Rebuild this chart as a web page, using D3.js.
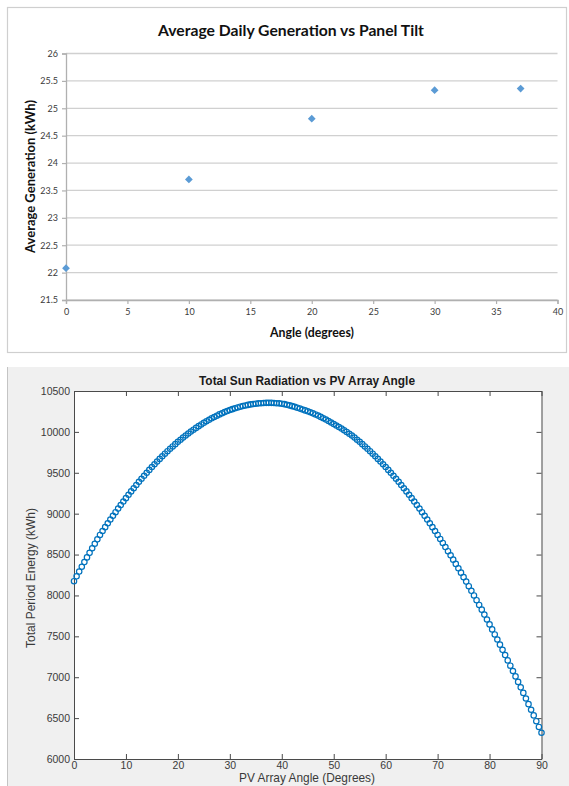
<!DOCTYPE html>
<html><head><meta charset="utf-8">
<script src="https://cdn.jsdelivr.net/npm/d3@7"></script>
<style>html,body{margin:0;padding:0;background:#fff;} svg{display:block;}</style>
</head><body>
<svg id="chart" width="569" height="786"></svg>
<script>
// ---------- DATA: top chart (Excel) ----------
const tiltTitle = "Average Daily Generation vs Panel Tilt";
const tiltXLabel = "Angle (degrees)";
const tiltYLabel = "Average Generation (kWh)";
const tiltAngles = [0, 10, 20, 30, 37];
const tiltGeneration = [22.08, 23.70, 24.81, 25.33, 25.36];
const tiltXTicks = [0, 5, 10, 15, 20, 25, 30, 35, 40];
const tiltYTicks = [21.5, 22, 22.5, 23, 23.5, 24, 24.5, 25, 25.5, 26];

// ---------- DATA: bottom chart (MATLAB) ----------
const pvTitle = "Total Sun Radiation vs PV Array Angle";
const pvXLabel = "PV Array Angle (Degrees)";
const pvYLabel = "Total Period Energy (kWh)";
const pvAngles = [
  0,0.5,1,1.5,2,2.5,3,3.5,4,4.5,5,5.5,6,6.5,7,7.5,8,8.5,9,9.5,
  10,10.5,11,11.5,12,12.5,13,13.5,14,14.5,15,15.5,16,16.5,17,17.5,18,18.5,19,19.5,
  20,20.5,21,21.5,22,22.5,23,23.5,24,24.5,25,25.5,26,26.5,27,27.5,28,28.5,29,29.5,
  30,30.5,31,31.5,32,32.5,33,33.5,34,34.5,35,35.5,36,36.5,37,37.5,38,38.5,39,39.5,
  40,40.5,41,41.5,42,42.5,43,43.5,44,44.5,45,45.5,46,46.5,47,47.5,48,48.5,49,49.5,
  50,50.5,51,51.5,52,52.5,53,53.5,54,54.5,55,55.5,56,56.5,57,57.5,58,58.5,59,59.5,
  60,60.5,61,61.5,62,62.5,63,63.5,64,64.5,65,65.5,66,66.5,67,67.5,68,68.5,69,69.5,
  70,70.5,71,71.5,72,72.5,73,73.5,74,74.5,75,75.5,76,76.5,77,77.5,78,78.5,79,79.5,
  80,80.5,81,81.5,82,82.5,83,83.5,84,84.5,85,85.5,86,86.5,87,87.5,88,88.5,89,89.5,
  90];
const pvEnergy = [
  8174,8234,8292,8351,8408,8465,8521,8577,8632,8686,8740,8788,8835,8882,8928,8973,9018,9062,9105,9148,
  9190,9231,9272,9311,9350,9389,9427,9463,9500,9535,9570,9604,9637,9670,9702,9733,9764,9793,9822,9850,
  9878,9904,9930,9956,9980,10004,10027,10049,10070,10091,10111,10130,10148,10166,10182,10198,10214,10228,10242,10255,
  10267,10278,10289,10299,10308,10316,10323,10330,10336,10341,10345,10349,10351,10353,10355,10355,10355,10353,10351,10349,
  10345,10339,10332,10324,10315,10306,10296,10285,10274,10263,10252,10240,10227,10213,10199,10183,10167,10151,10133,10115,
  10096,10078,10059,10040,10020,9999,9977,9955,9930,9904,9878,9850,9822,9793,9764,9733,9702,9670,9637,9604,
  9570,9535,9500,9463,9427,9389,9350,9311,9272,9231,9190,9148,9105,9062,9018,8973,8928,8882,8835,8788,
  8740,8691,8642,8592,8541,8490,8438,8386,8332,8279,8224,8169,8113,8057,8000,7942,7884,7826,7766,7706,
  7646,7585,7523,7461,7398,7335,7271,7206,7141,7076,7010,6943,6876,6808,6740,6671,6602,6533,6462,6392,
  6321];
const pvXTicks = [0, 10, 20, 30, 40, 50, 60, 70, 80, 90];
const pvYTicks = [6000, 6500, 7000, 7500, 8000, 8500, 9000, 9500, 10000, 10500];

const svg = d3.select("#chart");

function fitWidth(sel, w) {
  const cur = sel.node().getComputedTextLength();
  const fs = parseFloat(sel.attr("font-size"));
  if (cur > 0) sel.attr("font-size", (fs * w / cur).toFixed(2));
}

// ================= TOP CHART =================
const excelFont = "Lato, 'Open Sans', sans-serif";
svg.append("rect").attr("x", 7.5).attr("y", 7.5).attr("width", 559).attr("height", 345)
  .attr("fill", "#fff").attr("stroke", "#cfcfcf").attr("stroke-width", 1.2);

const tp = {left: 66, right: 557.5, top: 53.5, bottom: 300};
const x1 = d3.scaleLinear().domain([0, 40]).range([tp.left, tp.right]);
const y1 = d3.scaleLinear().domain([21.5, 26]).range([tp.bottom, tp.top]);

const gTop = svg.append("g");
gTop.append("g").selectAll("line").data(tiltYTicks).join("line")
  .attr("x1", tp.left).attr("x2", tp.right)
  .attr("y1", d => y1(d)).attr("y2", d => y1(d))
  .attr("stroke", "#d0d0d0").attr("stroke-width", 1.3);

const yAx1 = gTop.append("g").attr("transform", `translate(${tp.left},0)`)
  .call(d3.axisLeft(y1).tickValues(tiltYTicks).tickSize(4).tickPadding(4).tickFormat(d => String(d)));
const xAx1 = gTop.append("g").attr("transform", `translate(0,${tp.bottom})`)
  .call(d3.axisBottom(x1).tickValues(tiltXTicks).tickSize(4).tickPadding(5).tickFormat(d => String(d)));
[yAx1, xAx1].forEach(a => {
  a.select(".domain").attr("stroke", "#b0b0b0").attr("stroke-width", 1.3);
  a.selectAll(".tick line").attr("stroke", "#b0b0b0").attr("stroke-width", 1.2);
  a.selectAll("text").attr("fill", "#3a3a3a").attr("font-family", excelFont).attr("font-size", 9);
});

gTop.append("g").selectAll("path").data(tiltAngles).join("path")
  .attr("d", d3.symbol().type(d3.symbolSquare).size(30))
  .attr("transform", (d, i) => `translate(${x1(d)},${y1(tiltGeneration[i])}) rotate(45)`)
  .attr("fill", "#5b9bd5");

const t1 = svg.append("text").text(tiltTitle).attr("x", 291).attr("y", 35.5)
  .attr("text-anchor", "middle").attr("font-family", excelFont).attr("font-weight", "bold")
  .attr("font-size", 17).attr("fill", "#111");
fitWidth(t1, 266);
const xl1 = svg.append("text").text(tiltXLabel).attr("x", 312).attr("y", 337)
  .attr("text-anchor", "middle").attr("font-family", excelFont).attr("font-weight", "bold")
  .attr("font-size", 13).attr("fill", "#111");
fitWidth(xl1, 84);
const yl1 = svg.append("text").text(tiltYLabel).attr("transform", "translate(35,176.5) rotate(-90)")
  .attr("text-anchor", "middle").attr("font-family", excelFont).attr("font-weight", "bold")
  .attr("font-size", 13).attr("fill", "#111");
fitWidth(yl1, 153);

// ================= BOTTOM CHART =================
const mlFont = "'Liberation Sans', Arial, Helvetica, sans-serif";
svg.append("rect").attr("x", 7).attr("y", 367).attr("width", 562).attr("height", 419).attr("fill", "#f0f0f0");
svg.append("line").attr("x1", 7.5).attr("x2", 7.5).attr("y1", 367).attr("y2", 786).attr("stroke", "#c4c4c4");

const bp = {left: 74, right: 541.5, top: 391, bottom: 759};
const x2 = d3.scaleLinear().domain([0, 90]).range([bp.left, bp.right]);
const y2 = d3.scaleLinear().domain([6000, 10500]).range([bp.bottom, bp.top]);

svg.append("rect").attr("x", bp.left).attr("y", bp.top)
  .attr("width", bp.right - bp.left).attr("height", bp.bottom - bp.top).attr("fill", "#fff");

const gB = svg.append("g");
const axL = gB.append("g").attr("transform", `translate(${bp.left},0)`)
  .call(d3.axisLeft(y2).tickValues(pvYTicks).tickSizeInner(-5).tickSizeOuter(0).tickPadding(4).tickFormat(d => String(d)));
const axB = gB.append("g").attr("transform", `translate(0,${bp.bottom})`)
  .call(d3.axisBottom(x2).tickValues(pvXTicks).tickSizeInner(-5).tickSizeOuter(0).tickPadding(3).tickFormat(d => String(d)));
const axT = gB.append("g").attr("transform", `translate(0,${bp.top})`)
  .call(d3.axisTop(x2).tickValues(pvXTicks).tickSizeInner(-5).tickSizeOuter(0).tickFormat(""));
const axR = gB.append("g").attr("transform", `translate(${bp.right},0)`)
  .call(d3.axisRight(y2).tickValues(pvYTicks).tickSizeInner(-5).tickSizeOuter(0).tickFormat(""));
[axL, axB, axT, axR].forEach(a => {
  a.select(".domain").attr("stroke", "#4a4a4a").attr("stroke-width", 1);
  a.selectAll(".tick line").attr("stroke", "#4a4a4a");
  a.selectAll("text").attr("fill", "#3a3a3a").attr("font-family", mlFont).attr("font-size", 10.5);
});

gB.append("g").selectAll("circle").data(pvAngles).join("circle")
  .attr("cx", d => x2(d)).attr("cy", (d, i) => y2(pvEnergy[i])).attr("r", 2.7)
  .attr("fill", "none").attr("stroke", "#0072bd").attr("stroke-width", 1.2);

const t2 = svg.append("text").text(pvTitle).attr("x", 307).attr("y", 385)
  .attr("text-anchor", "middle").attr("font-family", mlFont).attr("font-weight", "bold")
  .attr("font-size", 11).attr("fill", "#1a1a1a");
fitWidth(t2, 216);
const xl2 = svg.append("text").text(pvXLabel).attr("x", 307).attr("y", 781.5)
  .attr("text-anchor", "middle").attr("font-family", mlFont)
  .attr("font-size", 11.5).attr("fill", "#3a3a3a");
fitWidth(xl2, 136);
const yl2 = svg.append("text").text(pvYLabel).attr("transform", "translate(34.5,578) rotate(-90)")
  .attr("text-anchor", "middle").attr("font-family", mlFont)
  .attr("font-size", 11.5).attr("fill", "#3a3a3a");
fitWidth(yl2, 140);
</script>
</body></html>
